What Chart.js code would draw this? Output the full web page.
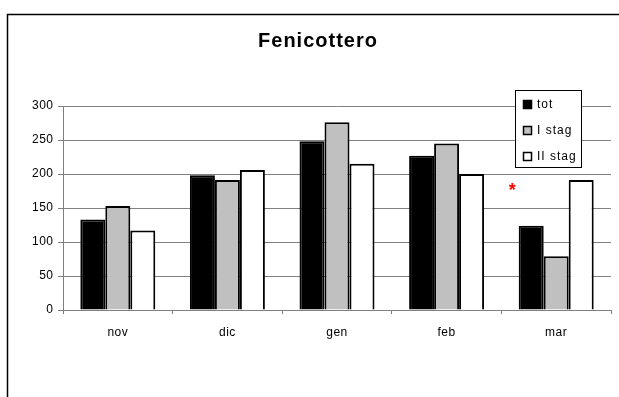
<!DOCTYPE html>
<html>
<head>
<meta charset="utf-8">
<script src="https://cdn.jsdelivr.net/npm/chart.js@4/dist/chart.umd.min.js"></script>
<style>
  html, body { margin: 0; padding: 0; background: #fff; }
  #wrap { width: 619px; height: 397px; }
</style>
</head>
<body>
<div id="wrap"><canvas id="c" width="619" height="397"></canvas></div>
<script>
// Monthly counts per group
const months = ['nov', 'dic', 'gen', 'feb', 'mar'];
const totValues = [133, 198, 248, 227, 124];
const iStagValues = [153, 191, 276, 245, 79];
const iiStagValues = [117, 206, 215, 200, 191];
const yTicks = [0, 50, 100, 150, 200, 250, 300];
const seriesNames = ['tot', 'I stag', 'II stag'];
const chartTitle = 'Fenicottero';
// note marker shown beside the last month
const noteMark = { text: '*', category: 3.6, value: 182 };

const FONT = '"Liberation Sans", Arial, sans-serif';

const framePlugin = {
  id: 'frame',
  beforeDraw(chart) {
    const ctx = chart.ctx;
    ctx.save();
    ctx.fillStyle = '#fff';
    ctx.fillRect(0, 0, chart.width, chart.height);
    // outer chart frame (continues past the canvas on the right and bottom)
    ctx.strokeStyle = '#000';
    ctx.lineWidth = 1.5;
    ctx.beginPath();
    ctx.moveTo(7.5, chart.height + 5);
    ctx.lineTo(7.5, 14.5);
    ctx.lineTo(chart.width + 5, 14.5);
    ctx.stroke();
    // title
    ctx.fillStyle = '#000';
    ctx.font = 'bold 20px ' + FONT;
    ctx.letterSpacing = '1px';
    ctx.textAlign = 'center';
    ctx.textBaseline = 'alphabetic';
    ctx.fillText(chartTitle, 318, 47);
    ctx.restore();
    // slightly spaced axis labels
    ctx.letterSpacing = '0.5px';
  },
  afterDraw(chart) {
    const ctx = chart.ctx;
    const xs = chart.scales.x, ys = chart.scales.y;
    ctx.save();
    // note asterisk
    const step = xs.getPixelForValue(1) - xs.getPixelForValue(0);
    const ax = xs.getPixelForValue(0) + noteMark.category * step;
    ctx.letterSpacing = '0px';
    ctx.fillStyle = '#ff0000';
    ctx.font = 'bold 18px ' + FONT;
    ctx.textAlign = 'center';
    ctx.textBaseline = 'alphabetic';
    ctx.fillText(noteMark.text, ax, ys.getPixelForValue(noteMark.value) + 10);

    // legend box
    const bx = 515.5, by = 90.5, bw = 66, bh = 77;
    ctx.fillStyle = '#fff';
    ctx.fillRect(bx, by, bw, bh);
    ctx.strokeStyle = '#000';
    ctx.lineWidth = 1;
    ctx.strokeRect(bx, by, bw, bh);
    ctx.font = '12px ' + FONT;
    ctx.letterSpacing = '1px';
    ctx.textAlign = 'left';
    ctx.textBaseline = 'middle';
    chart.data.datasets.forEach((ds, i) => {
      const cy = 104.5 + i * 26;
      ctx.fillStyle = ds.backgroundColor;
      ctx.fillRect(523.5, cy - 4, 8, 8);
      ctx.strokeStyle = '#000';
      ctx.lineWidth = 1.5;
      ctx.strokeRect(523.5, cy - 4, 8, 8);
      ctx.fillStyle = '#000';
      ctx.fillText(ds.label, 537, cy + 0.5);
    });
    ctx.restore();
    ctx.letterSpacing = '0px';
  }
};

new Chart(document.getElementById('c'), {
  type: 'bar',
  data: {
    labels: months,
    datasets: [
      { label: seriesNames[0], data: totValues, backgroundColor: '#000000' },
      { label: seriesNames[1], data: iStagValues, backgroundColor: '#c0c0c0' },
      { label: seriesNames[2], data: iiStagValues, backgroundColor: '#ffffff' }
    ]
  },
  options: {
    responsive: false,
    devicePixelRatio: 1,
    animation: false,
    layout: { padding: { left: 0, right: 8, top: 106, bottom: 0 } },
    datasets: {
      bar: {
        categoryPercentage: 0.684,
        barPercentage: 1,
        borderColor: '#000',
        borderWidth: 2,
        borderSkipped: 'start'
      }
    },
    plugins: {
      legend: { display: false },
      title: { display: false },
      tooltip: { enabled: false }
    },
    scales: {
      x: {
        afterFit: s => { s.height = 87; },
        grid: {
          display: true,
          drawOnChartArea: false,
          drawTicks: true,
          tickLength: 4,
          offset: true,
          color: '#808080'
        },
        border: { color: '#808080', width: 1 },
        ticks: {
          color: '#000',
          padding: 11,
          font: { family: FONT, size: 12 }
        }
      },
      y: {
        min: 0,
        max: 300,
        afterFit: s => { s.width = 63; },
        afterBuildTicks: s => { s.ticks = yTicks.map(v => ({ value: v })); },
        grid: {
          color: '#808080',
          tickLength: 5,
          drawTicks: true
        },
        border: { color: '#808080', width: 1 },
        ticks: {
          color: '#000',
          padding: 4.5,
          font: { family: FONT, size: 12 }
        }
      }
    }
  },
  plugins: [framePlugin]
});
</script>
</body>
</html>
